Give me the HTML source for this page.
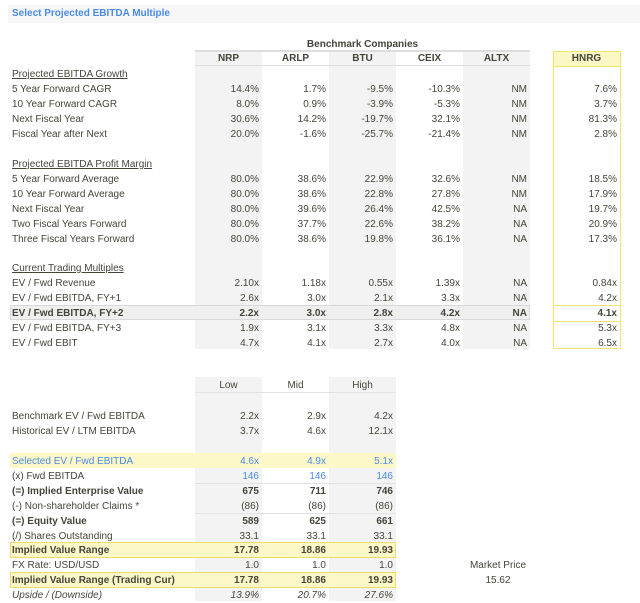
<!DOCTYPE html>
<html><head><meta charset="utf-8"><style>
body{margin:0;width:640px;height:601px;background:#fff;position:relative;overflow:hidden;font-family:"Liberation Sans","DejaVu Sans",sans-serif;font-size:10px;color:#45453a}
.a{position:absolute}
.r{position:absolute;left:0;width:640px;height:15px;line-height:15px}
.l{position:absolute;left:12px}
.v{position:absolute;width:64px;text-align:right}
.c1{left:195px}.c2{left:262px}.c3{left:329px}.c4{left:396px}.c5{left:463px}.c6{left:553px}
.h{position:absolute;width:67px;text-align:center;font-weight:bold}
.sh{background:#f3f3f3}
.b{font-weight:bold}
.u{text-decoration:underline}
.blue{color:#4a8be8}
.i{font-style:italic}
</style></head><body>
<div class="a" style="left:8px;top:5px;width:632px;height:18px;background:#f7f7f7"></div>
<div class="a blue b" style="left:12px;top:5px;line-height:18px;font-size:10px">Select Projected EBITDA Multiple</div>

<div class="a sh" style="left:195px;top:51px;width:67px;height:298px"></div>
<div class="a sh" style="left:329px;top:51px;width:67px;height:298px"></div>
<div class="a sh" style="left:463px;top:51px;width:67px;height:298px"></div>
<div class="a" style="left:195px;top:50px;width:335px;height:2px;background:#ddd"></div>
<div class="a" style="left:195px;top:65px;width:335px;height:1px;background:#ddd"></div>
<div class="a" style="left:553px;top:51px;width:66px;height:296px;border:1px solid #f2e36a"></div>
<div class="a" style="left:554px;top:52px;width:66px;height:14px;background:#fcf8c6;border-bottom:1px solid #f2e36a"></div>
<div class="a" style="left:554px;top:305px;width:66px;height:15px;border-top:1px solid #f2e36a;border-bottom:1px solid #f2e36a"></div>
<div class="a" style="left:10px;top:305px;width:520px;height:15px;background:#efefef;border:1px solid #d8d8d8;box-sizing:border-box"></div>

<div class="a b" style="left:195px;width:335px;top:37px;line-height:15px;text-align:center">Benchmark Companies</div>
<div class="r" style="top:51px"><span class="h" style="left:195px">NRP</span><span class="h" style="left:262px">ARLP</span><span class="h" style="left:329px">BTU</span><span class="h" style="left:396px">CEIX</span><span class="h" style="left:463px">ALTX</span><span class="h" style="left:553px">HNRG</span></div>

<div class="r" style="top:67px"><span class="l u">Projected EBITDA Growth</span></div>
<div class="r" style="top:82px"><span class="l">5 Year Forward CAGR</span><span class="v c1">14.4%</span><span class="v c2">1.7%</span><span class="v c3">-9.5%</span><span class="v c4">-10.3%</span><span class="v c5">NM</span><span class="v c6">7.6%</span></div>
<div class="r" style="top:97px"><span class="l">10 Year Forward CAGR</span><span class="v c1">8.0%</span><span class="v c2">0.9%</span><span class="v c3">-3.9%</span><span class="v c4">-5.3%</span><span class="v c5">NM</span><span class="v c6">3.7%</span></div>
<div class="r" style="top:112px"><span class="l">Next Fiscal Year</span><span class="v c1">30.6%</span><span class="v c2">14.2%</span><span class="v c3">-19.7%</span><span class="v c4">32.1%</span><span class="v c5">NM</span><span class="v c6">81.3%</span></div>
<div class="r" style="top:127px"><span class="l">Fiscal Year after Next</span><span class="v c1">20.0%</span><span class="v c2">-1.6%</span><span class="v c3">-25.7%</span><span class="v c4">-21.4%</span><span class="v c5">NM</span><span class="v c6">2.8%</span></div>

<div class="r" style="top:157px"><span class="l u">Projected EBITDA Profit Margin</span></div>
<div class="r" style="top:172px"><span class="l">5 Year Forward Average</span><span class="v c1">80.0%</span><span class="v c2">38.6%</span><span class="v c3">22.9%</span><span class="v c4">32.6%</span><span class="v c5">NM</span><span class="v c6">18.5%</span></div>
<div class="r" style="top:187px"><span class="l">10 Year Forward Average</span><span class="v c1">80.0%</span><span class="v c2">38.6%</span><span class="v c3">22.8%</span><span class="v c4">27.8%</span><span class="v c5">NM</span><span class="v c6">17.9%</span></div>
<div class="r" style="top:202px"><span class="l">Next Fiscal Year</span><span class="v c1">80.0%</span><span class="v c2">39.6%</span><span class="v c3">26.4%</span><span class="v c4">42.5%</span><span class="v c5">NA</span><span class="v c6">19.7%</span></div>
<div class="r" style="top:217px"><span class="l">Two Fiscal Years Forward</span><span class="v c1">80.0%</span><span class="v c2">37.7%</span><span class="v c3">22.6%</span><span class="v c4">38.2%</span><span class="v c5">NA</span><span class="v c6">20.9%</span></div>
<div class="r" style="top:232px"><span class="l">Three Fiscal Years Forward</span><span class="v c1">80.0%</span><span class="v c2">38.6%</span><span class="v c3">19.8%</span><span class="v c4">36.1%</span><span class="v c5">NA</span><span class="v c6">17.3%</span></div>

<div class="r" style="top:261px"><span class="l u">Current Trading Multiples</span></div>
<div class="r" style="top:276px"><span class="l">EV / Fwd Revenue</span><span class="v c1">2.10x</span><span class="v c2">1.18x</span><span class="v c3">0.55x</span><span class="v c4">1.39x</span><span class="v c5">NA</span><span class="v c6">0.84x</span></div>
<div class="r" style="top:291px"><span class="l">EV / Fwd EBITDA, FY+1</span><span class="v c1">2.6x</span><span class="v c2">3.0x</span><span class="v c3">2.1x</span><span class="v c4">3.3x</span><span class="v c5">NA</span><span class="v c6">4.2x</span></div>
<div class="r b" style="top:306px"><span class="l">EV / Fwd EBITDA, FY+2</span><span class="v c1">2.2x</span><span class="v c2">3.0x</span><span class="v c3">2.8x</span><span class="v c4">4.2x</span><span class="v c5">NA</span><span class="v c6">4.1x</span></div>
<div class="r" style="top:321px"><span class="l">EV / Fwd EBITDA, FY+3</span><span class="v c1">1.9x</span><span class="v c2">3.1x</span><span class="v c3">3.3x</span><span class="v c4">4.8x</span><span class="v c5">NA</span><span class="v c6">5.3x</span></div>
<div class="r" style="top:336px"><span class="l">EV / Fwd EBIT</span><span class="v c1">4.7x</span><span class="v c2">4.1x</span><span class="v c3">2.7x</span><span class="v c4">4.0x</span><span class="v c5">NA</span><span class="v c6">6.5x</span></div>

<div class="a sh" style="left:195px;top:377px;width:67px;height:224px"></div>
<div class="a sh" style="left:329px;top:377px;width:67px;height:224px"></div>
<div class="a" style="left:195px;top:392px;width:201px;height:1px;background:#e2e2e2"></div>
<div class="a" style="left:10px;top:453px;width:386px;height:15px;background:#fcf8c8"></div>
<div class="a" style="left:10px;top:542px;width:386px;height:16px;background:#fcf8c8;border:1px solid #eddc6a;box-sizing:border-box"></div>
<div class="a" style="left:10px;top:572px;width:386px;height:16px;background:#fcf8c8;border:1px solid #eddc6a;box-sizing:border-box"></div>
<div class="a" style="left:195px;top:483px;width:201px;height:1px;background:#e2e2e2"></div>
<div class="a" style="left:195px;top:513px;width:201px;height:1px;background:#e2e2e2"></div>

<div class="r" style="top:378px"><span class="h" style="left:195px;font-weight:normal">Low</span><span class="h" style="left:262px;font-weight:normal">Mid</span><span class="h" style="left:329px;font-weight:normal">High</span></div>
<div class="r" style="top:409px"><span class="l">Benchmark EV / Fwd EBITDA</span><span class="v c1">2.2x</span><span class="v c2">2.9x</span><span class="v c3">4.2x</span></div>
<div class="r" style="top:424px"><span class="l">Historical EV / LTM EBITDA</span><span class="v c1">3.7x</span><span class="v c2">4.6x</span><span class="v c3">12.1x</span></div>
<div class="r blue" style="top:454px"><span class="l">Selected EV / Fwd EBITDA</span><span class="v c1">4.6x</span><span class="v c2">4.9x</span><span class="v c3">5.1x</span></div>
<div class="r" style="top:469px"><span class="l">(x) Fwd EBITDA</span><span class="v c1 blue">146</span><span class="v c2 blue">146</span><span class="v c3 blue">146</span></div>
<div class="r b" style="top:484px"><span class="l">(=) Implied Enterprise Value</span><span class="v c1">675</span><span class="v c2">711</span><span class="v c3">746</span></div>
<div class="r" style="top:499px"><span class="l">(-) Non-shareholder Claims *</span><span class="v c1">(86)</span><span class="v c2">(86)</span><span class="v c3">(86)</span></div>
<div class="r b" style="top:514px"><span class="l">(=) Equity Value</span><span class="v c1">589</span><span class="v c2">625</span><span class="v c3">661</span></div>
<div class="r" style="top:529px"><span class="l">(/) Shares Outstanding</span><span class="v c1">33.1</span><span class="v c2">33.1</span><span class="v c3">33.1</span></div>
<div class="r b" style="top:543px"><span class="l">Implied Value Range</span><span class="v c1">17.78</span><span class="v c2">18.86</span><span class="v c3">19.93</span></div>
<div class="r" style="top:558px"><span class="l">FX Rate: USD/USD</span><span class="v c1">1.0</span><span class="v c2">1.0</span><span class="v c3">1.0</span></div>
<div class="r b" style="top:573px"><span class="l">Implied Value Range (Trading Cur)</span><span class="v c1">17.78</span><span class="v c2">18.86</span><span class="v c3">19.93</span></div>
<div class="r i" style="top:588px"><span class="l">Upside / (Downside)</span><span class="v c1">13.9%</span><span class="v c2">20.7%</span><span class="v c3">27.6%</span></div>

<div class="a" style="left:448px;width:100px;text-align:center;top:558px;line-height:15px">Market Price</div>
<div class="a" style="left:448px;width:100px;text-align:center;top:573px;line-height:15px">15.62</div>
</body></html>
